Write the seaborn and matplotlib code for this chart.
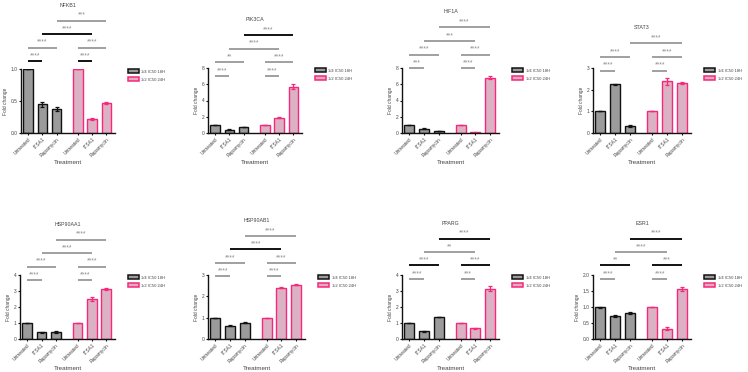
import pandas as pd
import seaborn as sns
import matplotlib.pyplot as plt
from matplotlib.patches import Patch

# Data
genes = ["NFKB1", "PIK3CA", "HIF1A", "STAT3", "HSP90AA1", "HSP90AB1", "PPARG", "ESR1"]
treatments = ["Untreated", "ITSA1", "Rapamycin"]
groups = ["1/4 IC50 18H", "1/2 IC50 24H"]

low_mean = [[1.00, 0.45, 0.38], [1.02, 0.42, 0.72], [1.02, 0.55, 0.22], [1.00, 2.24, 0.32],
            [0.98, 0.42, 0.43], [0.98, 0.62, 0.76], [0.98, 0.48, 1.38], [0.99, 0.73, 0.81]]
low_sem = [[0.0, 0.04, 0.03], [0.02, 0.03, 0.03], [0.02, 0.03, 0.03], [0.0, 0.04, 0.04],
           [0.0, 0.02, 0.04], [0.0, 0.03, 0.02], [0.0, 0.02, 0.02], [0.01, 0.03, 0.03]]
high_mean = [[1.00, 0.22, 0.47], [1.00, 1.85, 5.70], [1.00, 0.08, 6.80], [1.00, 2.38, 2.32],
             [1.00, 2.50, 3.12], [1.00, 2.40, 2.55], [1.00, 0.66, 3.15], [1.00, 0.32, 1.57]]
high_sem = [[0.0, 0.02, 0.02], [0.0, 0.06, 0.30], [0.0, 0.02, 0.20], [0.0, 0.15, 0.05],
            [0.0, 0.12, 0.08], [0.0, 0.02, 0.03], [0.0, 0.03, 0.15], [0.0, 0.04, 0.07]]

y_max = [1.0, 8, 8, 3, 4, 3, 4, 2.0]
y_step = [0.5, 2, 2, 1, 1, 1, 1, 0.5]

# significance comparisons: (bar i, bar j, stack level)
pairs = [(0, 1, 0), (3, 4, 0), (0, 2, 1), (3, 5, 1), (1, 4, 2), (2, 5, 3)]
stars = [["****", "****", "****", "****", "****", "***"],
         ["****", "****", "**", "****", "****", "****"],
         ["***", "****", "****", "****", "***", "****"],
         ["****", "****", "****", "****", None, "****"],
         ["****", "****", "****", "****", "****", "****"],
         ["****", "****", "****", "****", "****", "****"],
         ["****", "***", "****", "****", "**", "****"],
         ["****", "****", "**", "***", "****", "****"]]
dark = [[1, 1, 0, 0, 1, 0], [0, 0, 0, 0, 0, 1], [0, 0, 0, 0, 0, 0], [0, 0, 0, 0, 0, 0],
        [0, 0, 0, 0, 0, 0], [0, 0, 0, 0, 1, 0], [0, 0, 1, 1, 0, 1], [0, 0, 1, 1, 0, 1]]

# layout (pixels): axes left, top, right, bottom and first bracket height in axes fraction
boxes = [(21, 69, 115, 133), (208, 68, 302, 133), (402, 68, 499, 133), (593, 68, 691, 133),
         (20, 275, 115, 339), (208, 275, 305, 339), (402, 275, 499, 339), (593, 275, 691, 339)]
base = [1.125, 0.877, 0.995, 0.96, 0.92, 0.98, 0.94, 0.94]

positions = [0, 1, 2, 3.5, 4.5, 5.5]
fills = {groups[0]: "#9b9b9b", groups[1]: "#e2abc2"}
edges = {groups[0]: "#111111", groups[1]: "#f7287b"}
grey_line = "#a0a0a0"
txt = "#444444"

sns.set_theme(style="ticks")
plt.rcParams["font.family"] = ["Liberation Sans", "DejaVu Sans"]

W, H = 748, 372
fig = plt.figure(figsize=(W / 100, H / 100), dpi=100)

for k, gene in enumerate(genes):
    l, t, r, b = boxes[k]
    ax = fig.add_axes([l / W, 1 - b / H, (r - l) / W, (b - t) / H])
    vals = low_mean[k] + high_mean[k]
    sems = low_sem[k] + high_sem[k]
    df = pd.DataFrame({"pos": positions, "value": vals,
                       "group": [groups[0]] * 3 + [groups[1]] * 3})
    sns.barplot(data=df, x="pos", y="value", hue="group", hue_order=groups,
                native_scale=True, dodge=False, width=0.68, palette=fills,
                errorbar=None, legend=False, ax=ax)
    for cont, g in zip(ax.containers, groups):
        for p in cont:
            p.set_edgecolor(edges[g])
            p.set_linewidth(1.0)
    for g_i, g in enumerate(groups):
        sl = slice(3 * g_i, 3 * g_i + 3)
        ax.errorbar(positions[sl], vals[sl], yerr=sems[sl], fmt="none",
                    ecolor=edges[g], elinewidth=0.9, capsize=1.5, capthick=0.9)

    ax.set_xlim(-0.5, 6.1)
    ax.set_ylim(0, y_max[k])
    n = int(round(y_max[k] / y_step[k]))
    ticks = [i * y_step[k] for i in range(n + 1)]
    ax.set_yticks(ticks)
    if y_step[k] < 1:
        ax.set_yticklabels([f"{v:.1f}" for v in ticks])
    else:
        ax.set_yticklabels([f"{v:g}" for v in ticks])
    ax.set_xticks(positions)
    ax.set_xticklabels(treatments * 2, rotation=45, ha="right", rotation_mode="anchor")
    ax.tick_params(axis="both", labelsize=3.5, colors="#111111", labelcolor=txt,
                   length=1.5, width=0.8, pad=1)
    ax.set_xlabel("Treatment", fontsize=4.5, color=txt, labelpad=2)
    ax.set_ylabel("Fold change", fontsize=3.5, color=txt, labelpad=2)
    for s in ["top", "right"]:
        ax.spines[s].set_visible(False)
    for s in ["left", "bottom"]:
        ax.spines[s].set_linewidth(1.0)
        ax.spines[s].set_color("#111111")

    # significance brackets
    top_level = 0
    step = 0.21
    for c, (i, j, lev) in enumerate(pairs):
        lab = stars[k][c]
        if lab is None:
            continue
        if k == 3 and lev == 3:
            lev = 2
        top_level = max(top_level, lev)
        yy = base[k] + step * lev
        col = "#111111" if dark[k][c] else grey_line
        ax.plot([positions[i], positions[j]], [yy, yy], color=col, lw=1.4,
                transform=ax.get_xaxis_transform(), clip_on=False, solid_capstyle="butt")
        ax.text((positions[i] + positions[j]) / 2, yy + 0.03, lab, fontsize=4.8,
                color="#888888", ha="center", va="bottom",
                transform=ax.get_xaxis_transform())
    ax.text(0.5, base[k] + step * top_level + 0.2, gene, transform=ax.transAxes,
            fontsize=3.8, color=txt, ha="center", va="bottom")

    handles = [Patch(facecolor=fills[g], edgecolor=edges[g], linewidth=1.1) for g in groups]
    ax.legend(handles, groups, loc="upper left", bbox_to_anchor=(1.12, 1.02),
              frameon=False, fontsize=3.0, handlelength=2.6, handleheight=1.1,
              labelcolor=txt, borderaxespad=0, handletextpad=0.6, labelspacing=0.8)

fig.savefig("out.png", dpi=100)
